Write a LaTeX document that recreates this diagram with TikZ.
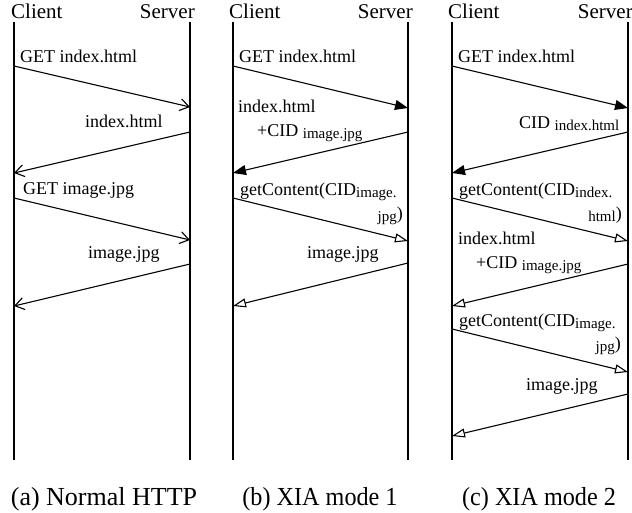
\documentclass[tikz,border=0pt]{standalone}
\usepackage{fontspec}
\setmainfont{Liberation Serif}
\usetikzlibrary{arrows.meta}
\newcommand{\subtxt}[1]{\raisebox{-2pt}{\fontsize{15}{15}\selectfont #1}}
\tikzset{
  lifeline/.style={line width=1.8pt},
  msg/.style={line width=1.1pt},
  msgopenv/.style={msg,-{Straight Barb[length=9pt,width=12pt,line width=1.1pt]}},
  msgfill/.style={msg,-{Triangle[length=13pt,width=10pt]}},
  msgopen/.style={msg,-{Triangle[open,length=13pt,width=9pt,line width=1.1pt]}},
  lbl/.style={inner sep=0pt,anchor=base west,font=\fontsize{18}{20}\selectfont},
  lble/.style={inner sep=0pt,anchor=base east,font=\fontsize{18}{20}\selectfont},
  hdr/.style={inner sep=0pt,font=\fontsize{21}{23}\selectfont},
  captext/.style={inner sep=0pt,anchor=base,font=\fontsize{26}{28}\selectfont}
}
\begin{document}
\begin{tikzpicture}[x=1pt,y=-1pt]
\useasboundingbox (0,0) rectangle (632,512);
% ---------- lifelines ----------
\foreach \n/\x in {ac/14,as/190,bc/233,bs/408,cc/452,cs/628}{
  \coordinate (\n top) at (\x,22);
  \coordinate (\n bot) at (\x,460);
  \draw[lifeline] (\n top) -- (\n bot);
}
% ---------- headers ----------
\node[hdr,anchor=base west] (ha1) at (11,18) {Client};
\node[hdr,anchor=base east] (ha2) at (195,18) {Server};
\node[hdr,anchor=base west] (hb1) at (229,18) {Client};
\node[hdr,anchor=base east] (hb2) at (413,18) {Server};
\node[hdr,anchor=base west] (hc1) at (448,18) {Client};
\node[hdr,anchor=base east] (hc2) at (633,18) {Server};
% ---------- panel (a) ----------
\coordinate (a1s) at (14,66);  \coordinate (a1e) at (190,107);
\coordinate (a2s) at (190,132); \coordinate (a2e) at (14,173);
\coordinate (a3s) at (14,198); \coordinate (a3e) at (190,240);
\coordinate (a4s) at (190,264); \coordinate (a4e) at (14,306);
\draw[msgopenv] (a1s) -- (a1e);
\draw[msgopenv] (a2s) -- (a2e);
\draw[msgopenv] (a3s) -- (a3e);
\draw[msgopenv] (a4s) -- (a4e);
\node[lbl] (la1) at (20,62) {GET index.html};
\node[lbl] (la2) at (85,127) {index.html};
\node[lbl] (la3) at (23,194) {GET image.jpg};
\node[lbl] (la4) at (88,258) {image.jpg};
% ---------- panel (b) ----------
\coordinate (b1s) at (233,66);  \coordinate (b1e) at (408,108);
\coordinate (b2s) at (408,132); \coordinate (b2e) at (233,173);
\coordinate (b3s) at (233,198); \coordinate (b3e) at (408,241);
\coordinate (b4s) at (408,263); \coordinate (b4e) at (233,306);
\draw[msgfill] (b1s) -- (b1e);
\draw[msgfill] (b2s) -- (b2e);
\draw[msgopen] (b3s) -- (b3e);
\draw[msgopen] (b4s) -- (b4e);
\node[lbl] (lb1) at (239,62) {GET index.html};
\node[lbl] (lb2) at (238,112) {index.html};
\node[lbl] (lb3) at (257,136) {+CID \subtxt{image.jpg}};
\node[lbl] (lb4) at (240,195) {getContent(CID\subtxt{image.}};
\node[lble] (lb5) at (403,219) {\subtxt{jpg})};
\node[lbl] (lb6) at (307,258) {image.jpg};
% ---------- panel (c) ----------
\coordinate (c1s) at (452,66);  \coordinate (c1e) at (628,108);
\coordinate (c2s) at (628,132); \coordinate (c2e) at (452,173);
\coordinate (c3s) at (452,198); \coordinate (c3e) at (628,241);
\coordinate (c4s) at (628,264); \coordinate (c4e) at (452,306);
\coordinate (c5s) at (452,329); \coordinate (c5e) at (628,372);
\coordinate (c6s) at (628,394); \coordinate (c6e) at (452,436);
\draw[msgfill] (c1s) -- (c1e);
\draw[msgfill] (c2s) -- (c2e);
\draw[msgopen] (c3s) -- (c3e);
\draw[msgopen] (c4s) -- (c4e);
\draw[msgopen] (c5s) -- (c5e);
\draw[msgopen] (c6s) -- (c6e);
\node[lbl] (lc1) at (458,62) {GET index.html};
\node[lbl] (lc2) at (519,128) {CID \subtxt{index.html}};
\node[lbl] (lc3) at (459,195) {getContent(CID\subtxt{index.}};
\node[lble] (lc4) at (622,219) {\subtxt{html})};
\node[lbl] (lc5) at (458,244) {index.html};
\node[lbl] (lc6) at (476,268) {+CID \subtxt{image.jpg}};
\node[lbl] (lc7) at (459,326) {getContent(CID\subtxt{image.}};
\node[lble] (lc8) at (621,349) {\subtxt{jpg})};
\node[lbl] (lc9) at (526,390) {image.jpg};
% ---------- captions ----------
\node[captext] (capa) at (104,505) {(a) Normal HTTP};
\node[captext,xscale=0.93,transform shape] (capb) at (320,505) {(b) XIA mode 1};
\node[captext,xscale=0.93,transform shape] (capc) at (539,505) {(c) XIA mode 2};
\end{tikzpicture}
\end{document}
